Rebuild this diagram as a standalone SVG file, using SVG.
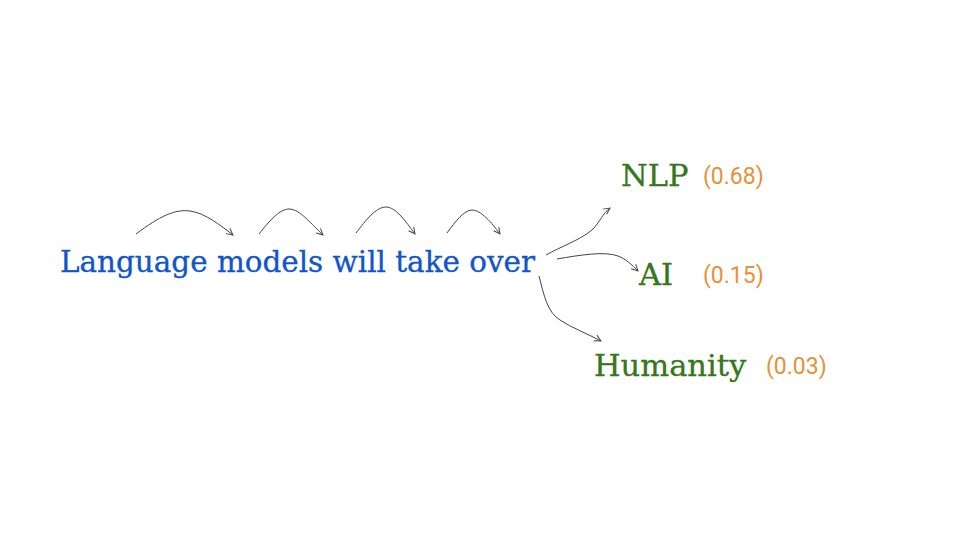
<svg xmlns="http://www.w3.org/2000/svg" width="960" height="540" viewBox="0 0 960 540">
<defs>
<marker id="ah" viewBox="0 0 10 10" refX="9" refY="5" markerWidth="8" markerHeight="8" markerUnits="userSpaceOnUse" orient="auto">
<path d="M1,1 L9,5 L1,9" fill="none" stroke="#434343" stroke-width="1.2"/>
</marker>
<style>
.w{font-family:"DejaVu Serif","Liberation Serif",serif;font-size:30.5px;fill:#1155cc;stroke:#1155cc;stroke-width:0.35px}
.t{font-family:"DejaVu Serif","Liberation Serif",serif;font-size:30.5px;fill:#38761d;stroke:#38761d;stroke-width:0.35px}
.p{font-family:Roboto,"Liberation Sans",sans-serif;font-size:23px;fill:#e69138}
.c{fill:none;stroke:#434343;stroke-width:1}
</style>
</defs>
<rect width="960" height="540" fill="#ffffff"/>
<g id="sentence"><text class="w" x="60" y="272" textLength="475" lengthAdjust="spacingAndGlyphs">Language models will take over</text></g>
<g id="nlp"><text class="t" x="621" y="186">NLP</text><text class="p" x="703" y="184">(0.68)</text></g>
<g id="ai"><text class="t" x="639" y="285">AI</text><text class="p" x="703" y="283">(0.15)</text></g>
<g id="humanity"><text class="t" x="594" y="376">Humanity</text><text class="p" x="766" y="374">(0.03)</text></g>
<g id="connectors">
<path class="c" marker-end="url(#ah)" d="M136,234 C160,216 175,209 190,211 C205,213 220,225 233,235"/>
<path class="c" marker-end="url(#ah)" d="M259,234 C270,220 280,209 289,209 C300,209 312,225 323,235"/>
<path class="c" marker-end="url(#ah)" d="M356,233 C366,220 376,207 386,207 C396,207 406,222 415,234"/>
<path class="c" marker-end="url(#ah)" d="M447,233 C455,222 464,210 472,210 C481,210 492,223 500,234"/>
<path class="c" marker-end="url(#ah)" d="M546,255 C560,247 580,240 592,230 C600,222 603,213 610,208"/>
<path class="c" marker-end="url(#ah)" d="M557,259 C580,255 605,251 618,256 C626,259 632,265 638,271"/>
<path class="c" marker-end="url(#ah)" d="M539,276 C544,295 547,312 560,320 C572,328 588,334 601,341"/>
</g>
</svg>
